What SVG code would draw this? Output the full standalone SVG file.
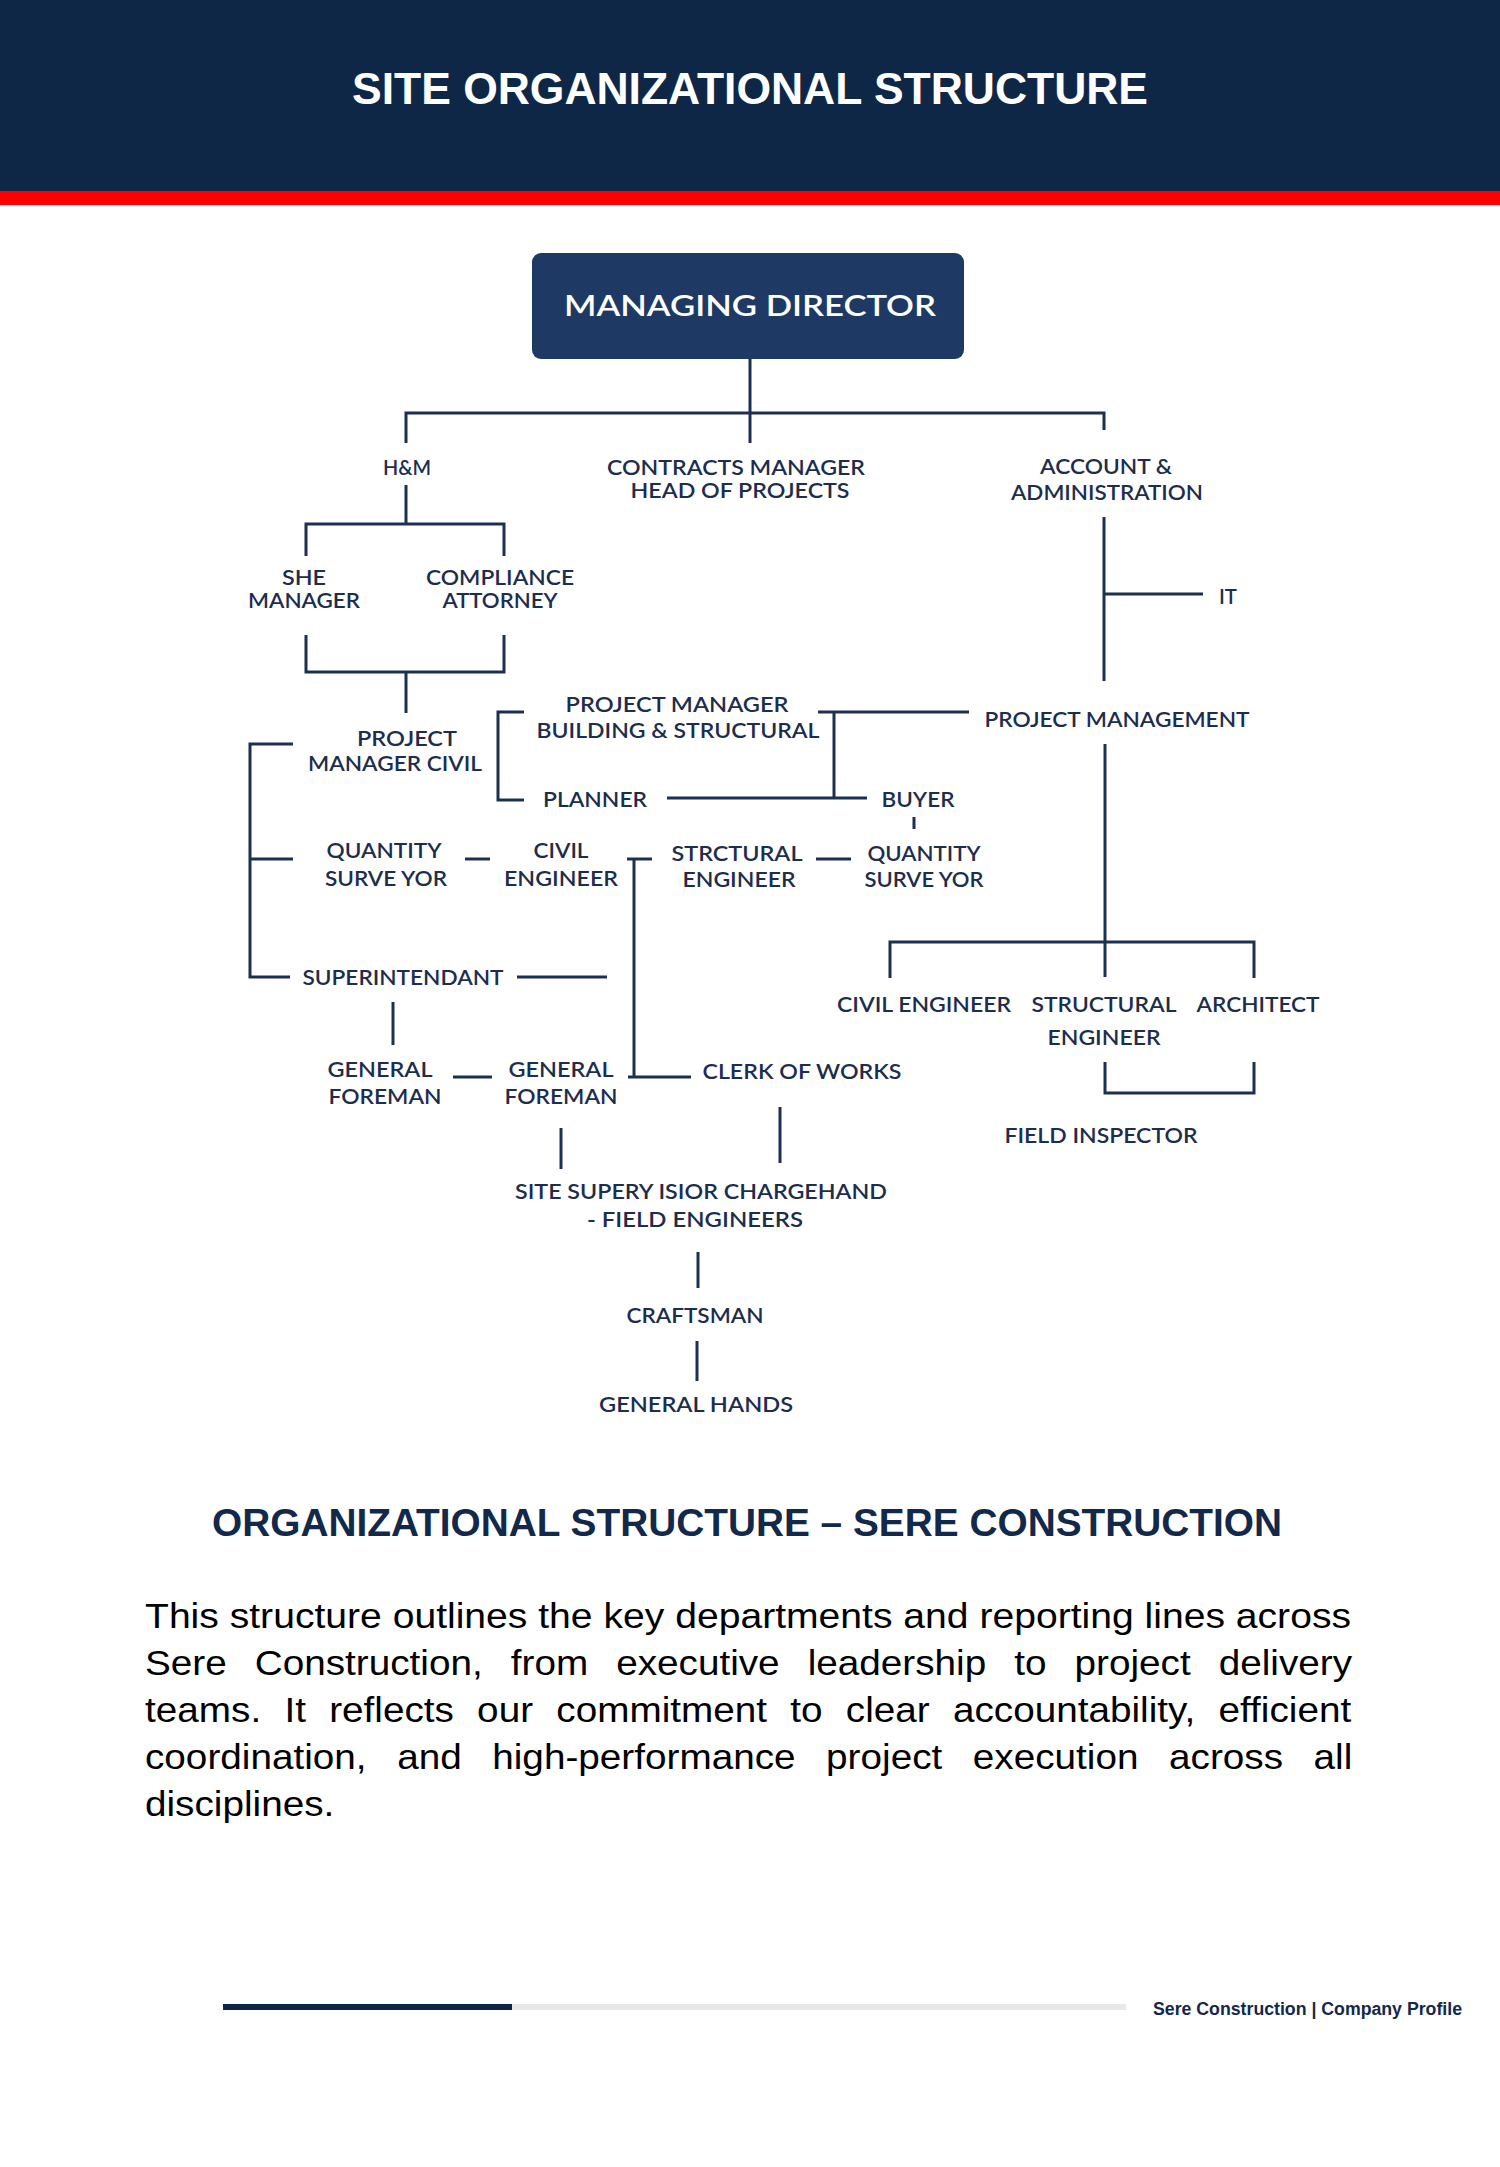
<svg xmlns="http://www.w3.org/2000/svg" width="1500" height="2167" viewBox="0 0 1500 2167">
<style>
.lbl{font-family:Lato,"Noto Sans","Liberation Sans",sans-serif;font-size:21px;font-weight:600;fill:#1d2d4d;text-anchor:middle}
.ln{fill:none;stroke:#1c3152;stroke-width:3}
.para{font-family:"Liberation Sans",Arial,sans-serif;font-size:35px;fill:#000}
</style>
<rect x="0" y="0" width="1500" height="191" fill="#0f2747"/>
<rect x="0" y="191" width="1500" height="14" fill="#ff0000"/>
<text x="750" y="104" font-family="Liberation Sans, Arial, sans-serif" font-size="45" font-weight="bold" fill="#ffffff" text-anchor="middle" textLength="796" lengthAdjust="spacingAndGlyphs">SITE ORGANIZATIONAL STRUCTURE</text>

<g id="connectors" class="ln">
<path d="M750 359V443"/>
<path d="M406 443V413H1104V430"/>
<path d="M406 485V524"/>
<path d="M306 556V524H504V556"/>
<path d="M306 635V672H504V635"/>
<path d="M406 672V713"/>
<path d="M293 744H250V977H290"/>
<path d="M250 859H293"/>
<path d="M524 712H498V800H524"/>
<path d="M818 712H969"/>
<path d="M834 712V798"/>
<path d="M667 798H867"/>
<path d="M914 817V829"/>
<path d="M1104 517V681"/>
<path d="M1104 594H1203"/>
<path d="M1105 744V977"/>
<path d="M890 978V942H1254V978"/>
<path d="M1105 1062V1093H1254V1062"/>
<path d="M465 859H490"/>
<path d="M627 859H652"/>
<path d="M634 859V1077"/>
<path d="M628 1077H691"/>
<path d="M816 859H851"/>
<path d="M517 977H607"/>
<path d="M393 1002V1045"/>
<path d="M453 1077H492"/>
<path d="M561 1128V1169"/>
<path d="M780 1107V1163"/>
<path d="M698 1252V1288"/>
<path d="M697 1341V1381"/>
</g>

<g id="managing-director">
<rect x="532" y="253" width="432" height="106" rx="9" fill="#1e3a64"/>
<text x="750" y="316" font-family="Lato, 'Noto Sans', sans-serif" font-size="29" font-weight="600" fill="#ffffff" text-anchor="middle" textLength="372" lengthAdjust="spacingAndGlyphs">MANAGING DIRECTOR</text>
</g>
<g id="hm"><text class="lbl" x="407" y="475" textLength="48" lengthAdjust="spacingAndGlyphs">H&amp;M</text></g>
<g id="contracts-manager">
<text class="lbl" x="736" y="475" textLength="258" lengthAdjust="spacingAndGlyphs">CONTRACTS MANAGER</text>
<text class="lbl" x="740" y="498" textLength="219" lengthAdjust="spacingAndGlyphs">HEAD OF PROJECTS</text>
</g>
<g id="account-admin">
<text class="lbl" x="1106" y="474" textLength="132" lengthAdjust="spacingAndGlyphs">ACCOUNT &amp;</text>
<text class="lbl" x="1107" y="500" textLength="192" lengthAdjust="spacingAndGlyphs">ADMINISTRATION</text>
</g>
<g id="it"><text class="lbl" x="1228" y="604" textLength="18" lengthAdjust="spacingAndGlyphs">IT</text></g>
<g id="she-manager">
<text class="lbl" x="304" y="585" textLength="44" lengthAdjust="spacingAndGlyphs">SHE</text>
<text class="lbl" x="304" y="608" textLength="112" lengthAdjust="spacingAndGlyphs">MANAGER</text>
</g>
<g id="compliance-attorney">
<text class="lbl" x="500" y="585" textLength="148" lengthAdjust="spacingAndGlyphs">COMPLIANCE</text>
<text class="lbl" x="500" y="608" textLength="115" lengthAdjust="spacingAndGlyphs">ATTORNEY</text>
</g>
<g id="pm-civil">
<text class="lbl" x="407" y="746" textLength="100" lengthAdjust="spacingAndGlyphs">PROJECT</text>
<text class="lbl" x="395" y="771" textLength="174" lengthAdjust="spacingAndGlyphs">MANAGER CIVIL</text>
</g>
<g id="pm-building">
<text class="lbl" x="677" y="712" textLength="223" lengthAdjust="spacingAndGlyphs">PROJECT MANAGER</text>
<text class="lbl" x="678" y="738" textLength="283" lengthAdjust="spacingAndGlyphs">BUILDING &amp; STRUCTURAL</text>
</g>
<g id="project-management"><text class="lbl" x="1117" y="727" textLength="265" lengthAdjust="spacingAndGlyphs">PROJECT MANAGEMENT</text></g>
<g id="planner"><text class="lbl" x="595" y="807" textLength="104" lengthAdjust="spacingAndGlyphs">PLANNER</text></g>
<g id="buyer"><text class="lbl" x="918" y="807" textLength="73" lengthAdjust="spacingAndGlyphs">BUYER</text></g>
<g id="qs-left">
<text class="lbl" x="384" y="858" textLength="115" lengthAdjust="spacingAndGlyphs">QUANTITY</text>
<text class="lbl" x="386" y="886" textLength="122" lengthAdjust="spacingAndGlyphs">SURVE YOR</text>
</g>
<g id="civil-engineer-left">
<text class="lbl" x="561" y="858" textLength="55" lengthAdjust="spacingAndGlyphs">CIVIL</text>
<text class="lbl" x="561" y="886" textLength="114" lengthAdjust="spacingAndGlyphs">ENGINEER</text>
</g>
<g id="structural-engineer-left">
<text class="lbl" x="737" y="861" textLength="131" lengthAdjust="spacingAndGlyphs">STRCTURAL</text>
<text class="lbl" x="739" y="887" textLength="113" lengthAdjust="spacingAndGlyphs">ENGINEER</text>
</g>
<g id="qs-right">
<text class="lbl" x="924" y="861" textLength="113" lengthAdjust="spacingAndGlyphs">QUANTITY</text>
<text class="lbl" x="924" y="887" textLength="119" lengthAdjust="spacingAndGlyphs">SURVE YOR</text>
</g>
<g id="superintendant"><text class="lbl" x="403" y="985" textLength="201" lengthAdjust="spacingAndGlyphs">SUPERINTENDANT</text></g>
<g id="general-foreman-left">
<text class="lbl" x="380" y="1077" textLength="105" lengthAdjust="spacingAndGlyphs">GENERAL</text>
<text class="lbl" x="385" y="1104" textLength="113" lengthAdjust="spacingAndGlyphs">FOREMAN</text>
</g>
<g id="general-foreman-right">
<text class="lbl" x="561" y="1077" textLength="105" lengthAdjust="spacingAndGlyphs">GENERAL</text>
<text class="lbl" x="561" y="1104" textLength="113" lengthAdjust="spacingAndGlyphs">FOREMAN</text>
</g>
<g id="clerk-of-works"><text class="lbl" x="802" y="1079" textLength="199" lengthAdjust="spacingAndGlyphs">CLERK OF WORKS</text></g>
<g id="civil-engineer-right"><text class="lbl" x="924" y="1012" textLength="174" lengthAdjust="spacingAndGlyphs">CIVIL ENGINEER</text></g>
<g id="structural-engineer-right">
<text class="lbl" x="1104" y="1012" textLength="145" lengthAdjust="spacingAndGlyphs">STRUCTURAL</text>
<text class="lbl" x="1104" y="1045" textLength="113" lengthAdjust="spacingAndGlyphs">ENGINEER</text>
</g>
<g id="architect"><text class="lbl" x="1258" y="1012" textLength="123" lengthAdjust="spacingAndGlyphs">ARCHITECT</text></g>
<g id="field-inspector"><text class="lbl" x="1101" y="1143" textLength="193" lengthAdjust="spacingAndGlyphs">FIELD INSPECTOR</text></g>
<g id="site-supervisor">
<text class="lbl" x="701" y="1199" textLength="372" lengthAdjust="spacingAndGlyphs">SITE SUPERY ISIOR CHARGEHAND</text>
<text class="lbl" x="695" y="1227" textLength="216" lengthAdjust="spacingAndGlyphs">- FIELD ENGINEERS</text>
</g>
<g id="craftsman"><text class="lbl" x="695" y="1323" textLength="137" lengthAdjust="spacingAndGlyphs">CRAFTSMAN</text></g>
<g id="general-hands"><text class="lbl" x="696" y="1412" textLength="194" lengthAdjust="spacingAndGlyphs">GENERAL HANDS</text></g>

<text x="747" y="1536" font-family="Liberation Sans, Arial, sans-serif" font-size="39" font-weight="bold" fill="#13294b" text-anchor="middle" textLength="1070" lengthAdjust="spacingAndGlyphs">ORGANIZATIONAL STRUCTURE – SERE CONSTRUCTION</text>

<g transform="translate(145 0) scale(1.106 1)" class="para">
<text x="0" y="1628" textLength="1090.4" lengthAdjust="spacingAndGlyphs">This structure outlines the key departments and reporting lines across</text>
<text x="0" y="1675" word-spacing="15.6">Sere Construction, from executive leadership to project delivery</text>
<text x="0" y="1722" word-spacing="11.3">teams. It reflects our commitment to clear accountability, efficient</text>
<text x="0" y="1769" word-spacing="17.9">coordination, and high-performance project execution across all</text>
<text x="0" y="1816">disciplines.</text>
</g>

<rect x="223" y="2004" width="289" height="6" fill="#0f2747"/>
<rect x="512" y="2004" width="614" height="6" fill="#e8e8e8"/>
<text x="1153" y="2015" font-family="Liberation Sans, Arial, sans-serif" font-size="17.5" font-weight="bold" fill="#14284b" textLength="309" lengthAdjust="spacingAndGlyphs">Sere Construction | Company Profile</text>
</svg>
